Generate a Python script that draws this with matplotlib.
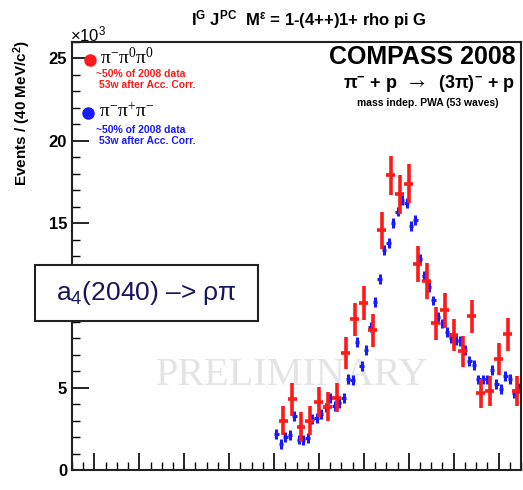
import numpy as np
import matplotlib.pyplot as plt
from matplotlib.patches import Rectangle
from matplotlib.ticker import MultipleLocator

plt.rcParams['font.family'] = ['Liberation Sans', 'DejaVu Sans']
plt.rcParams['mathtext.fontset'] = 'stix'

# pi- pi0 pi0 (red), 40 MeV bins, values in units of 10^3
mass_red = [1.44, 1.48, 1.52, 1.56, 1.60, 1.64, 1.68, 1.72, 1.76, 1.80, 1.84, 1.88, 1.92, 1.96,
            2.00, 2.04, 2.08, 2.12, 2.16, 2.20, 2.24, 2.28, 2.32, 2.36, 2.40, 2.44, 2.48]
ev_red = [3.0, 4.3, 2.6, 3.0, 4.15, 3.85, 4.4, 7.1, 9.15, 10.15, 8.5, 14.55, 17.9, 16.75,
          17.4, 12.5, 11.5, 8.9, 9.7, 8.2, 7.2, 9.35, 4.65, 4.8, 6.75, 8.25, 4.8]
err_red = [0.9, 1.0, 0.9, 0.9, 0.9, 0.9, 0.9, 0.95, 1.0, 1.05, 1.0, 1.15, 1.2, 1.2,
           1.2, 1.1, 1.1, 1.0, 1.05, 1.0, 0.95, 1.0, 0.9, 0.9, 0.95, 1.0, 0.9]

# pi- pi+ pi- (blue), 20 MeV bins
mass_blue = [1.41, 1.43, 1.45, 1.47, 1.49, 1.51, 1.53, 1.55, 1.57, 1.59, 1.61, 1.63, 1.65, 1.67,
             1.69, 1.71, 1.73, 1.75, 1.77, 1.79, 1.81, 1.83, 1.85, 1.87, 1.89, 1.91, 1.93, 1.95,
             1.97, 1.99, 2.01, 2.03, 2.05, 2.07, 2.09, 2.11, 2.13, 2.15, 2.17, 2.19, 2.21, 2.23,
             2.25, 2.27, 2.29, 2.31, 2.33, 2.35, 2.37, 2.39, 2.41, 2.43, 2.45, 2.47, 2.49]
ev_blue = [2.2, 1.6, 2.0, 2.1, 3.3, 1.85, 1.8, 1.95, 3.1, 3.15, 3.4, 3.8, 4.35, 3.9,
           4.05, 4.35, 5.55, 5.45, 7.8, 6.3, 7.3, 8.7, 10.2, 11.6, 13.35, 13.8, 15.0, 15.7,
           16.4, 16.2, 14.8, 15.2, 12.8, 11.8, 11.1, 10.3, 9.3, 8.9, 8.4, 8.0, 7.9, 7.85,
           7.3, 6.6, 6.4, 5.5, 5.5, 5.5, 6.1, 5.2, 4.9, 5.7, 5.55, 4.65, 5.0]
err_blue = [0.3] * len(ev_blue)

y_ticks = [0, 5, 10, 15, 20, 25]
y_labels = ['0', '5', '', '15', '20', '25']  # "10" sits under the a4 box

red = '#ff1a1a'
blue = '#1a1aff'

fig = plt.figure(figsize=(5.23, 4.9), dpi=100)
ax = fig.add_axes([72/523, 1 - 470/490, 449/523, 428/490])

ax.errorbar(mass_blue, ev_blue, yerr=err_blue, xerr=0.01, fmt='none', ecolor=blue,
            elinewidth=2.2, capsize=0)
ax.errorbar(mass_red, ev_red, yerr=err_red, xerr=0.02, fmt='none', ecolor=red,
            elinewidth=2.6, capsize=0)

ax.set_xlim(0.5, 2.5)
ax.set_ylim(0, 26)
ax.xaxis.set_major_locator(MultipleLocator(0.2))
ax.xaxis.set_minor_locator(MultipleLocator(0.05))
ax.yaxis.set_minor_locator(MultipleLocator(1))
ax.set_yticks(y_ticks)
ax.set_yticklabels(y_labels, fontweight='bold')
ax.tick_params(direction='in', which='major', length=12, width=1.2, labelsize=12)
ax.tick_params(direction='in', which='minor', length=6, width=1.0)
ax.tick_params(axis='x', labelbottom=False)
for s in ax.spines.values():
    s.set_linewidth(1.5)
    s.set_color('#222222')

# watermark
ax.text(0.49, 0.22, 'PRELIMINARY', transform=ax.transAxes, ha='center', va='center',
        fontsize=29, family='Liberation Serif', color='#e4e4e4', zorder=0)

# legend-like texts
ax.plot([0.040], [0.958], 'o', color=red, ms=8, transform=ax.transAxes, clip_on=False)
ax.text(0.062, 0.963, r'$\mathregular{\pi^{-}\pi^{0}\pi^{0}}$', transform=ax.transAxes,
        family='Liberation Serif', fontsize=14, va='center')
ax.text(0.053, 0.925, '~50% of 2008 data', transform=ax.transAxes, color=red,
        fontsize=7.5, fontweight='bold', va='center')
ax.text(0.060, 0.899, '53w after Acc. Corr.', transform=ax.transAxes, color=red,
        fontsize=7.5, fontweight='bold', va='center')
ax.plot([0.036], [0.834], 'o', color=blue, ms=8, transform=ax.transAxes, clip_on=False)
ax.text(0.060, 0.838, r'$\mathregular{\pi^{-}\pi^{+}\pi^{-}}$', transform=ax.transAxes,
        family='Liberation Serif', fontsize=14, va='center')
ax.text(0.053, 0.794, '~50% of 2008 data', transform=ax.transAxes, color=blue,
        fontsize=7.5, fontweight='bold', va='center')
ax.text(0.060, 0.768, '53w after Acc. Corr.', transform=ax.transAxes, color=blue,
        fontsize=7.5, fontweight='bold', va='center')

ax.text(0.987, 0.965, 'COMPASS 2008', transform=ax.transAxes, ha='right', va='center',
        fontsize=18, fontweight='bold')
ax.text(0.987, 0.904, r'$\mathregular{\pi^{-}}$ + p  $\rightarrow$  (3$\mathregular{\pi}$)$\mathregular{^{-}}$ + p',
        transform=ax.transAxes, ha='right', va='center', fontsize=13, fontweight='bold')
ax.text(0.949, 0.857, 'mass indep. PWA (53 waves)', transform=ax.transAxes, ha='right',
        va='center', fontsize=7.5, fontweight='bold')

# title and axis texts
fig.text(309/523, 1 - 20/490, r'I$\mathregular{^{G}}$ J$\mathregular{^{PC}}$  M$\mathregular{^{\epsilon}}$ = 1-(4++)1+ rho pi G',
         ha='center', va='center', fontsize=12, fontweight='bold')
fig.text(70/523, 1 - 34/490, r'$\mathregular{\times}$10$\mathregular{^{3}}$', ha='left',
         va='center', fontsize=12)
fig.text(22/523, 1 - 40/490, r'Events / (40 MeV/c$\mathregular{^{2}}$)', rotation=90,
         ha='center', va='top', fontsize=11, fontweight='bold')

# resonance label box
fig.add_artist(Rectangle((35/523, 1 - 321/490), 223/523, 56/490, transform=fig.transFigure,
                         facecolor='white', edgecolor='#222222', lw=1.5, zorder=5))
fig.text(146/523, 1 - 293/490, r'a$\mathregular{_{4}}$(2040) –> ρπ', ha='center', va='center',
         fontsize=19, color='#16165e', zorder=6)

fig.savefig('out.png', dpi=100)
